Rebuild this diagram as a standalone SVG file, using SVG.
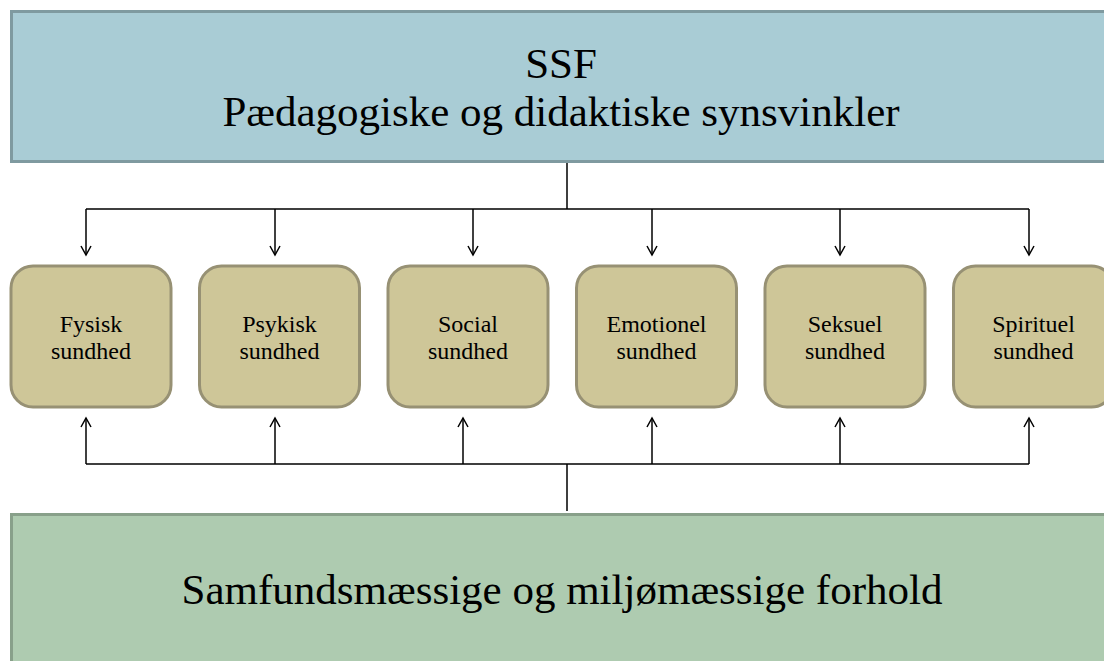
<svg xmlns="http://www.w3.org/2000/svg" width="1104" height="661" viewBox="0 0 1104 661">
<style>
.big{font-family:"Liberation Serif","DejaVu Serif",serif;font-size:43px;fill:#000;text-anchor:middle}
.small{font-family:"Liberation Serif","DejaVu Serif",serif;font-size:24px;fill:#000;text-anchor:middle}
.node{fill:#cec698;stroke:#979174;stroke-width:3}
.conn{fill:none;stroke:#000;stroke-width:1.5}
</style>
<defs>
<marker id="arr" viewBox="0 0 12 12" refX="10" refY="6" markerWidth="12" markerHeight="12" markerUnits="userSpaceOnUse" orient="auto">
<path d="M1,1 L10,6 L1,11" fill="none" stroke="#000" stroke-width="1.5"/>
</marker>
</defs>
<g id="top">
<rect x="11.5" y="11.5" width="1105" height="150" fill="#a9ccd5" stroke="#7f9aa0" stroke-width="3"/>
<text class="big" x="561" y="78">SSF</text>
<text class="big" x="561" y="126">Pædagogiske og didaktiske synsvinkler</text>
</g>
<g id="bottom">
<rect x="11.5" y="514.5" width="1105" height="160" fill="#aecbb0" stroke="#88a08a" stroke-width="3"/>
<text class="big" x="562" y="604">Samfundsmæssige og miljømæssige forhold</text>
</g>
<g id="n1"><rect class="node" x="11" y="266" width="160" height="141" rx="22"/><text class="small" x="91" y="332">Fysisk</text><text class="small" x="91" y="359">sundhed</text></g>
<g id="n2"><rect class="node" x="199.5" y="266" width="160" height="141" rx="22"/><text class="small" x="279.5" y="332">Psykisk</text><text class="small" x="279.5" y="359">sundhed</text></g>
<g id="n3"><rect class="node" x="388" y="266" width="160" height="141" rx="22"/><text class="small" x="468" y="332">Social</text><text class="small" x="468" y="359">sundhed</text></g>
<g id="n4"><rect class="node" x="576.5" y="266" width="160" height="141" rx="22"/><text class="small" x="656.5" y="332">Emotionel</text><text class="small" x="656.5" y="359">sundhed</text></g>
<g id="n5"><rect class="node" x="765" y="266" width="160" height="141" rx="22"/><text class="small" x="845" y="332">Seksuel</text><text class="small" x="845" y="359">sundhed</text></g>
<g id="n6"><rect class="node" x="953.5" y="266" width="160" height="141" rx="22"/><text class="small" x="1033.5" y="332">Spirituel</text><text class="small" x="1033.5" y="359">sundhed</text></g>
<g id="connectors">
<path class="conn" d="M567,163 V209 M86,209 H1029"/>
<path class="conn" d="M86,209 V255" marker-end="url(#arr)"/>
<path class="conn" d="M275,209 V255" marker-end="url(#arr)"/>
<path class="conn" d="M473,209 V255" marker-end="url(#arr)"/>
<path class="conn" d="M652,209 V255" marker-end="url(#arr)"/>
<path class="conn" d="M840,209 V255" marker-end="url(#arr)"/>
<path class="conn" d="M1029,209 V255" marker-end="url(#arr)"/>
<path class="conn" d="M567,511 V464 M86,464 H1029"/>
<path class="conn" d="M86,464 V418" marker-end="url(#arr)"/>
<path class="conn" d="M275,464 V418" marker-end="url(#arr)"/>
<path class="conn" d="M463,464 V418" marker-end="url(#arr)"/>
<path class="conn" d="M652,464 V418" marker-end="url(#arr)"/>
<path class="conn" d="M840,464 V418" marker-end="url(#arr)"/>
<path class="conn" d="M1029,464 V418" marker-end="url(#arr)"/>
</g>
</svg>
